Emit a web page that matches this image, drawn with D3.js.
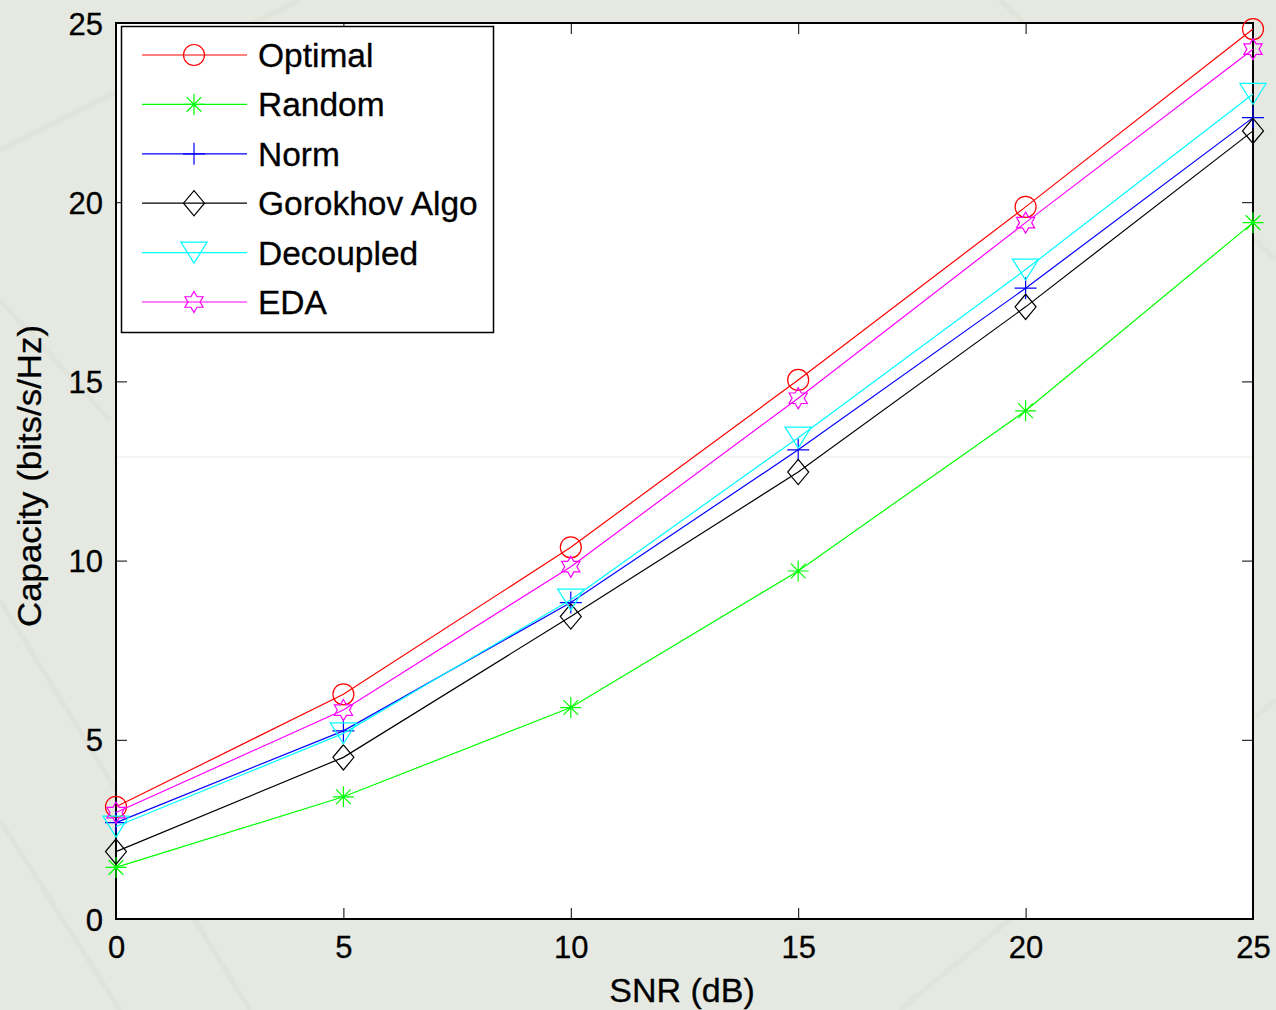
<!DOCTYPE html>
<html>
<head>
<meta charset="utf-8">
<script src="https://cdn.jsdelivr.net/npm/d3@7"></script>
<style>
html,body{margin:0;padding:0;background:#e5e9e1;}
svg{display:block;font-family:"Liberation Sans",Arial,sans-serif;}
</style>
</head>
<body>
<svg id="chart" width="1276" height="1010"></svg>
<script>
const snr = [0, 5, 10, 15, 20, 25];
const optimal   = [3.13, 6.27, 10.37, 15.04, 19.87, 24.83];
const random    = [1.44, 3.41, 5.90, 9.71, 14.18, 19.43];
const norm      = [2.69, 5.25, 8.83, 13.09, 17.60, 22.36];
const gorokhov  = [1.88, 4.51, 8.44, 12.47, 17.08, 21.99];
const decoupled = [2.58, 5.18, 8.91, 13.43, 18.12, 23.02];
const eda       = [2.97, 5.83, 9.83, 14.53, 19.43, 24.27];
const seriesNames = ["Optimal", "Random", "Norm", "Gorokhov Algo", "Decoupled", "EDA"];
const xTicks = [0, 5, 10, 15, 20, 25];
const yTicks = [0, 5, 10, 15, 20, 25];

const seriesValues = [optimal, random, norm, gorokhov, decoupled, eda];
const colors = ["#ff0000", "#00ff00", "#0000ff", "#000000", "#00ffff", "#ff00ff"];
const markers = ["circle", "asterisk", "plus", "diamond", "triangleDown", "hexagram"];

const svg = d3.select("#chart");
const W = 1276, H = 1010;
const m = {left: 116, top: 23, right: 1253, bottom: 919};

// background texture (faint)
const bg = svg.append("g");
bg.append("rect").attr("width", W).attr("height", H).attr("fill", "#e5e9e1");
const texLines = [[0,150,300,0],[0,600,250,1010],[900,1010,1276,700],[1000,0,1276,260],[0,820,120,1010],[0,300,110,420]];
bg.selectAll("line").data(texLines).join("line")
  .attr("x1", d => d[0]).attr("y1", d => d[1]).attr("x2", d => d[2]).attr("y2", d => d[3])
  .attr("stroke", "#e0e4db").attr("stroke-width", 5);

const x = d3.scaleLinear().domain([0, 25]).range([m.left, m.right]);
const y = d3.scaleLinear().domain([0, 25]).range([m.bottom, m.top]);

// plot background
svg.append("rect").attr("x", m.left).attr("y", m.top)
  .attr("width", m.right - m.left).attr("height", m.bottom - m.top).attr("fill", "#ffffff");
svg.append("line").attr("x1", m.left).attr("x2", m.right).attr("y1", 457).attr("y2", 457)
  .attr("stroke", "#e8ebe4").attr("stroke-width", 1);

const tickLen = 11;
const gx = svg.append("g").attr("transform", `translate(0,${m.bottom})`)
  .call(d3.axisBottom(x).tickValues(xTicks).tickFormat(d3.format("d")).tickSizeInner(-tickLen).tickSizeOuter(0).tickPadding(17));
const gy = svg.append("g").attr("transform", `translate(${m.left},0)`)
  .call(d3.axisLeft(y).tickValues(yTicks).tickFormat(d3.format("d")).tickSizeInner(-tickLen).tickSizeOuter(0).tickPadding(13));
const gt = svg.append("g").attr("transform", `translate(0,${m.top})`)
  .call(d3.axisTop(x).tickValues(xTicks).tickFormat("").tickSizeInner(-tickLen).tickSizeOuter(0));
const gr = svg.append("g").attr("transform", `translate(${m.right},0)`)
  .call(d3.axisRight(y).tickValues(yTicks).tickFormat("").tickSizeInner(-tickLen).tickSizeOuter(0));

[gx, gy, gt, gr].forEach(g => {
  g.select(".domain").remove();
  g.selectAll(".tick line").attr("stroke", "#000").attr("stroke-width", 1);
  g.selectAll(".tick text").attr("fill", "#000").attr("font-size", 31)
    .attr("font-family", "'Liberation Sans', Arial, sans-serif")
    .attr("stroke", "#000").attr("stroke-width", 0.3);
});
gx.selectAll(".tick text").attr("dy", "0.71em");
gy.selectAll(".tick text").attr("dy", "0.36em");

svg.append("rect").attr("x", m.left).attr("y", m.top)
  .attr("width", m.right - m.left).attr("height", m.bottom - m.top)
  .attr("fill", "none").attr("stroke", "#000").attr("stroke-width", 2);

// axis labels
svg.append("text").attr("x", 682).attr("y", 1002)
  .attr("text-anchor", "middle").attr("font-size", 34).attr("fill", "#000")
  .attr("stroke", "#000").attr("stroke-width", 0.3).text("SNR (dB)");
svg.append("text").attr("transform", `translate(41,476) rotate(-90)`)
  .attr("text-anchor", "middle").attr("font-size", 34).attr("fill", "#000")
  .attr("stroke", "#000").attr("stroke-width", 0.3)
  .attr("textLength", 302).attr("lengthAdjust", "spacingAndGlyphs").text("Capacity (bits/s/Hz)");

// custom symbols
const symbolTypes = {
  circle: { draw(ctx, s) { ctx.moveTo(s, 0); ctx.arc(0, 0, s, 0, 2 * Math.PI); } },
  asterisk: { draw(ctx, s) {
    ctx.moveTo(-s, 0); ctx.lineTo(s, 0);
    ctx.moveTo(0, -s); ctx.lineTo(0, s);
    const d = s * 0.7;
    ctx.moveTo(-d, -d); ctx.lineTo(d, d);
    ctx.moveTo(-d, d); ctx.lineTo(d, -d);
  } },
  plus: { draw(ctx, s) { ctx.moveTo(-s, 0); ctx.lineTo(s, 0); ctx.moveTo(0, -s); ctx.lineTo(0, s); } },
  diamond: { draw(ctx, s) {
    ctx.moveTo(0, -s * 1.2); ctx.lineTo(s, 0); ctx.lineTo(0, s * 1.2); ctx.lineTo(-s, 0); ctx.closePath();
  } },
  triangleDown: { draw(ctx, s) {
    ctx.moveTo(-s * 1.25, -s); ctx.lineTo(s * 1.25, -s); ctx.lineTo(0, s); ctx.closePath();
  } },
  hexagram: { draw(ctx, s) {
    const ri = s * 0.58;
    for (let i = 0; i < 12; i++) {
      const a = -Math.PI / 2 + i * Math.PI / 6;
      const r = i % 2 === 0 ? s : ri;
      const px = r * Math.cos(a), py = r * Math.sin(a);
      if (i === 0) ctx.moveTo(px, py); else ctx.lineTo(px, py);
    }
    ctx.closePath();
  } }
};
const markerSize = {circle: 10.5, asterisk: 10.5, plus: 11, diamond: 10.5, triangleDown: 10.5, hexagram: 10.5};
const sym = (type) => d3.symbol().type(symbolTypes[type]).size(markerSize[type])();

const line = d3.line().x((d, i) => x(snr[i])).y(d => y(d));

seriesValues.forEach((vals, k) => {
  const g = svg.append("g");
  g.append("path").attr("d", line(vals)).attr("fill", "none")
    .attr("stroke", colors[k]).attr("stroke-width", 1.2);
  g.selectAll("path.mk").data(vals).join("path").attr("class", "mk")
    .attr("transform", (d, i) => `translate(${x(snr[i])},${y(d)})`)
    .attr("d", sym(markers[k])).attr("fill", "none")
    .attr("stroke", colors[k]).attr("stroke-width", 1.2);
});

// legend
const lg = svg.append("g");
lg.append("rect").attr("x", 121.5).attr("y", 26.5).attr("width", 372).attr("height", 306)
  .attr("fill", "#fff").attr("stroke", "#000").attr("stroke-width", 1.5);
const rowY = d3.scaleLinear().domain([0, 5]).range([55, 302]);
seriesNames.forEach((name, k) => {
  const yy = rowY(k);
  lg.append("line").attr("x1", 142).attr("x2", 247).attr("y1", yy).attr("y2", yy)
    .attr("stroke", colors[k]).attr("stroke-width", 1.2);
  lg.append("path").attr("transform", `translate(194,${yy})`).attr("d", sym(markers[k]))
    .attr("fill", "none").attr("stroke", colors[k]).attr("stroke-width", 1.2);
  lg.append("text").attr("x", 258).attr("y", yy).attr("dy", "0.36em")
    .attr("font-size", 33.5).attr("fill", "#000")
    .attr("stroke", "#000").attr("stroke-width", 0.3).text(name);
});
</script>
</body>
</html>
